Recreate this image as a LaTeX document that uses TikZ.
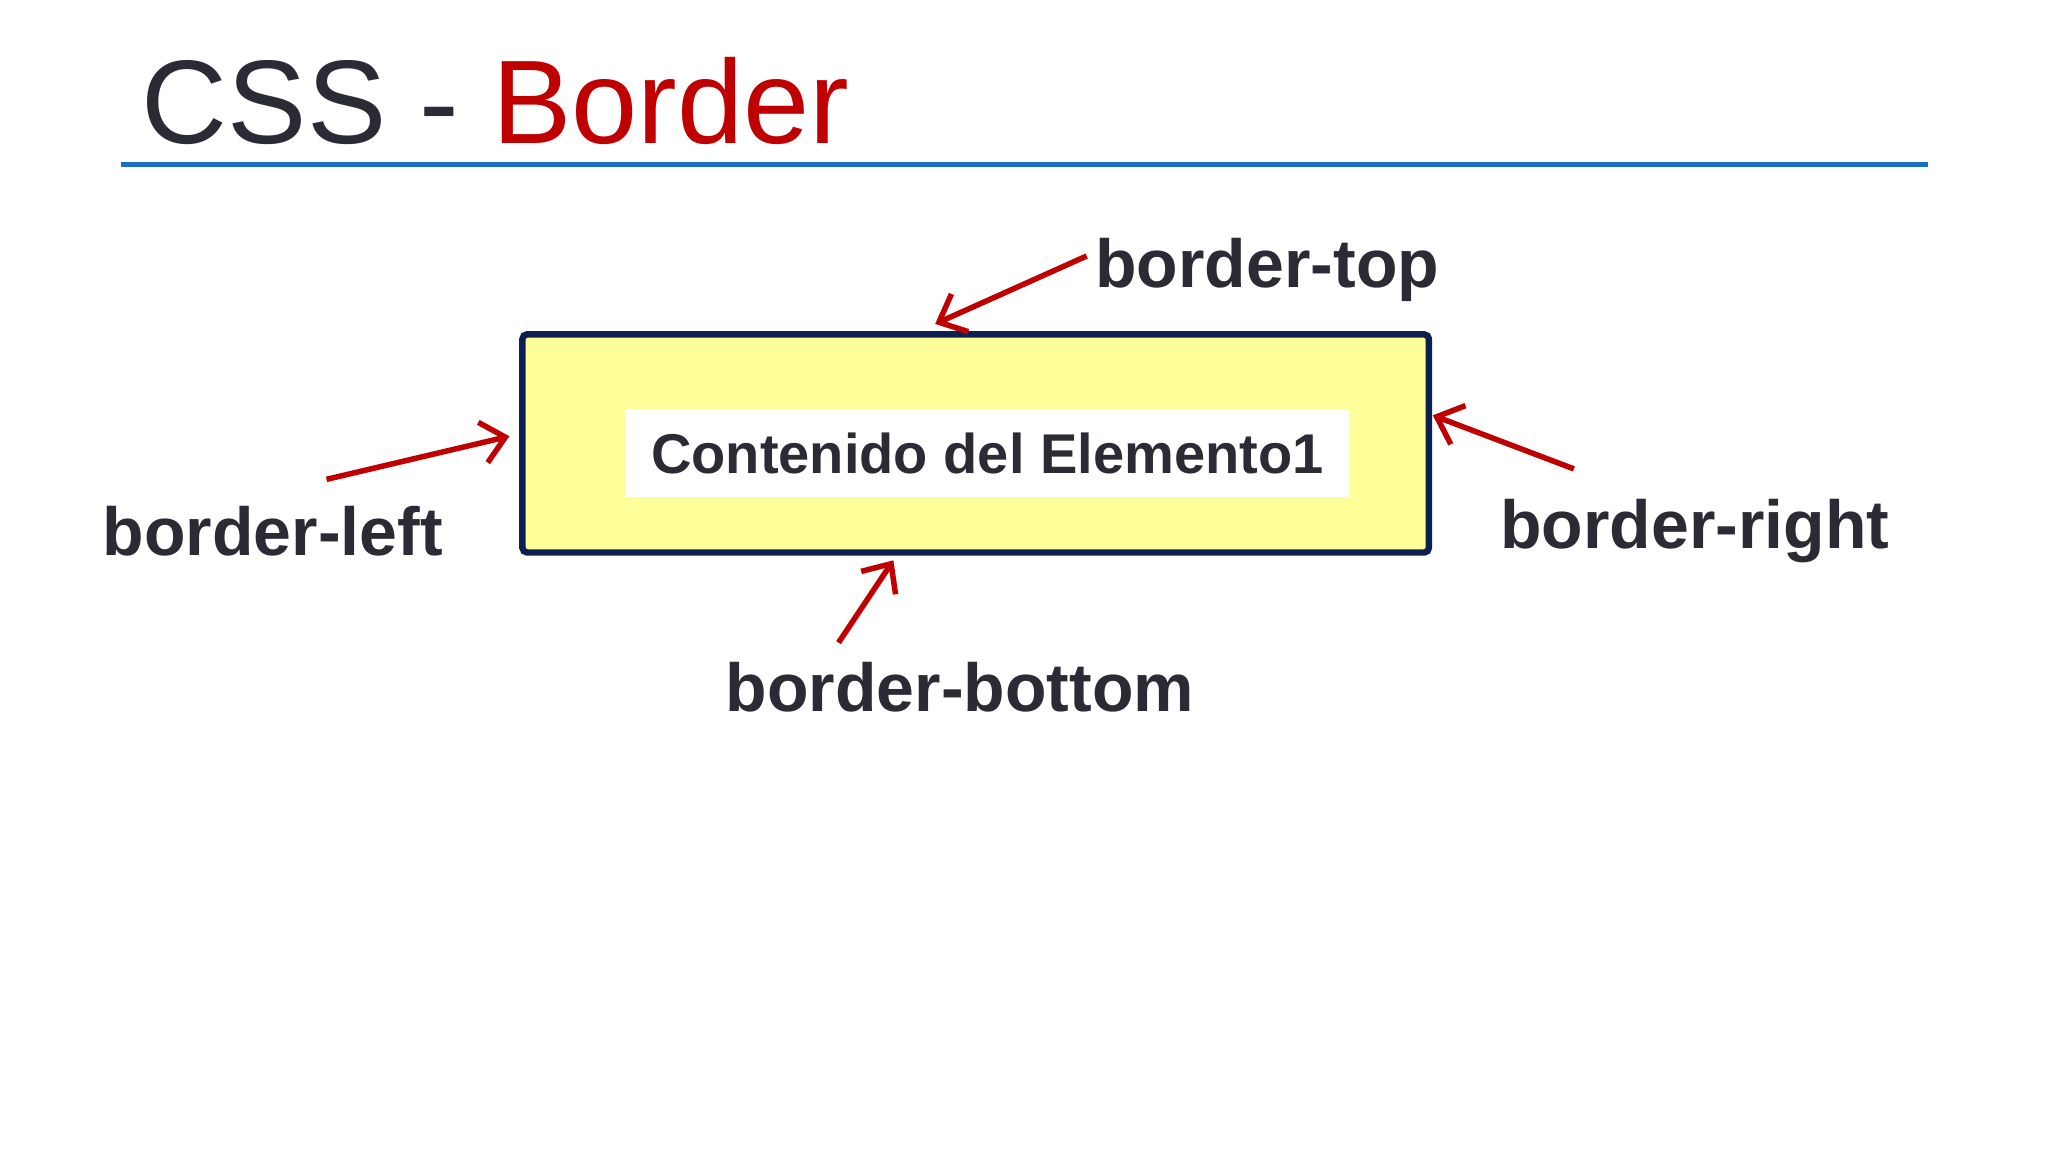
\documentclass[tikz,border=0pt]{standalone}
\usepackage{fontspec}
\setmainfont{Liberation Sans}
\usetikzlibrary{arrows.meta}
\definecolor{txt}{HTML}{2B2B36}
\definecolor{rd}{HTML}{C00000}
\definecolor{bl}{HTML}{1A6FC0}
\definecolor{nv}{HTML}{0D1F4F}
\definecolor{yl}{HTML}{FFFF99}
\begin{document}
\begin{tikzpicture}[x=0.01cm,y=-0.01cm,
  lab/.style={anchor=base west,inner sep=0,text=txt,font=\bfseries\fontsize{14.8pt}{16pt}\selectfont},
  arr/.style={rd,line width=1.2pt,-{Straight Barb[length=5pt,width=9pt,line width=1.2pt]}}]
\useasboundingbox[fill=white] (0,0) rectangle (1568,882);
\node[anchor=base west,inner sep=0,font=\fontsize{25.9pt}{30pt}\selectfont] (title) at (108,110) {\textcolor{txt}{CSS - }\textcolor{rd}{Border}};
\draw[bl,line width=1.2pt] (93,126) coordinate (l1) -- (1476,126) coordinate (l2);
\draw[nv,fill=yl,line width=1.4pt,rounded corners=1pt] (400,256) rectangle (1094,423);
\node[fill=white,minimum width=554*0.01cm,minimum height=67*0.01cm,text=txt,font=\bfseries\fontsize{12.2pt}{14pt}\selectfont] (c) at (756,347) {Contenido del Elemento1};
\node[lab] (t) at (838,220) {border-top};
\node[lab] (l) at (78,425) {border-left};
\node[lab] (r) at (1148,420) {border-right};
\node[lab] (b) at (555,545) {border-bottom};
\coordinate (ts) at (832,196); \coordinate (te) at (716,248);
\coordinate (ls) at (250,367); \coordinate (le) at (390,334);
\coordinate (rs) at (1205,359); \coordinate (re) at (1097,318);
\coordinate (bs) at (642,492); \coordinate (be) at (684,429);
\draw[arr] (ts) -- (te);
\draw[arr] (ls) -- (le);
\draw[arr] (rs) -- (re);
\draw[arr] (bs) -- (be);
\end{tikzpicture}
\end{document}
